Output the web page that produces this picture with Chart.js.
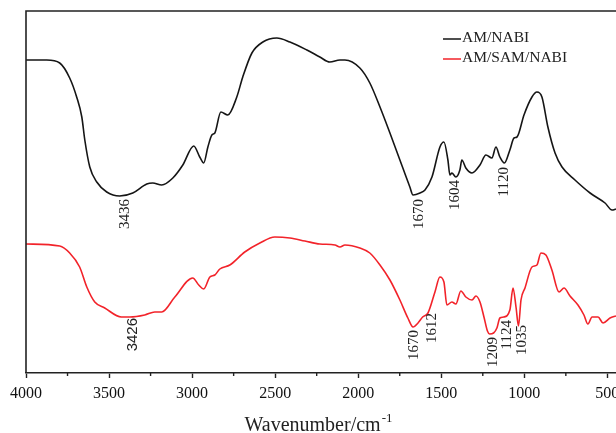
<!DOCTYPE html>
<html lang="en">
<head>
    <meta charset="UTF-8">
    <title>FTIR Spectra</title>
    <script src="https://cdn.jsdelivr.net/npm/chart.js"></script>
    <style>
        body {
            margin: 0;
            padding: 0;
            background-color: #fff;
        }
        .chart-box {
            width: 616px;
            height: 433px;
        }
    </style>
</head>
<body>
    <div class="chart-box">
        <canvas id="irChart"></canvas>
    </div>

    <script>
        // AM/NABI spectrum (wavenumber, transmittance a.u.)
        const amNabiWavenumbers = [4000, 3875, 3797, 3737, 3695, 3664, 3646, 3616, 3574, 3514, 3436, 3357, 3273, 3237, 3183, 3116, 3056, 2990, 2954, 2930, 2905, 2881, 2863, 2827, 2785, 2731, 2695, 2640, 2574, 2490, 2411, 2309, 2231, 2171, 2110, 2080, 1990, 1930, 1869, 1809, 1749, 1689, 1670, 1628, 1598, 1556, 1508, 1484, 1460, 1448, 1436, 1412, 1388, 1376, 1352, 1315, 1267, 1231, 1195, 1171, 1147, 1120, 1087, 1062, 1044, 1002, 954, 924, 894, 858, 815, 773, 695, 604, 514, 472, 448];
        const amNabiValues = [313, 313, 310, 295, 276, 256, 233, 206, 191, 181, 177, 180, 189, 190, 188, 195, 208, 227, 216, 210, 226, 238, 240, 261, 258, 276, 296, 320, 331, 335, 331, 323, 316, 311, 313, 313, 305, 290, 266, 240, 213, 186, 178, 180, 183, 196, 226, 231, 213, 198, 200, 196, 203, 213, 205, 200, 208, 218, 215, 226, 216, 210, 223, 235, 236, 258, 276, 281, 276, 246, 220, 206, 193, 180, 170, 163, 164];

        // AM/SAM/NABI spectrum
        const amSamNabiWavenumbers = [4000, 3797, 3737, 3677, 3634, 3586, 3526, 3426, 3375, 3285, 3225, 3183, 3104, 2996, 2960, 2930, 2893, 2863, 2833, 2773, 2683, 2592, 2502, 2411, 2321, 2231, 2140, 2110, 2080, 1990, 1930, 1869, 1809, 1749, 1701, 1670, 1640, 1612, 1580, 1538, 1508, 1484, 1466, 1436, 1412, 1382, 1352, 1315, 1291, 1267, 1243, 1222, 1209, 1185, 1165, 1147, 1124, 1087, 1068, 1050, 1035, 1020, 996, 954, 924, 900, 870, 834, 791, 761, 725, 677, 641, 617, 592, 556, 526, 484, 448];
        const amSamNabiValues = [129, 127, 120, 106, 86, 71, 65, 56, 56, 58, 61, 61, 76, 95, 88, 84, 96, 98, 104, 108, 121, 130, 136, 135, 132, 129, 128, 126, 128, 125, 120, 108, 93, 73, 55, 46, 50, 56, 60, 81, 96, 91, 68, 71, 69, 82, 76, 73, 77, 71, 56, 42, 39, 40, 45, 55, 56, 63, 85, 66, 47, 73, 85, 106, 108, 120, 118, 103, 81, 85, 77, 68, 58, 49, 56, 56, 50, 55, 57];

        const seriesNames = ['AM/NABI', 'AM/SAM/NABI'];
        const seriesColors = ['#151515', '#f2232a'];

        const majorTicks = [4000, 3500, 3000, 2500, 2000, 1500, 1000, 500];
        const minorTicks = [3750, 3250, 2750, 2250, 1750, 1250, 750];

        // peak labels: text, wavenumber where the label sits, level of its upper end
        const amNabiPeakLabels = ['3436', '1670', '1604', '1120'];
        const amNabiPeakAt = [3405, 1634, 1418, 1122];
        const amNabiPeakTop = [174, 174, 193, 206];

        const amSamNabiPeakLabels = ['3426', '1670', '1612', '1209', '1124', '1035'];
        const amSamNabiPeakAt = [3357, 1664, 1556, 1189, 1103, 1014];
        const amSamNabiPeakTop = [55, 43, 60, 36, 53, 48];

        function toPoints(xs, ys) {
            return xs.map((x, i) => ({ x: x, y: ys[i] }));
        }

        const serif = '"Liberation Serif", "Times New Roman", serif';

        // frame, minor ticks, peak labels, legend and axis title
        const extrasPlugin = {
            id: 'extras',
            afterDraw(chart) {
                const ctx = chart.ctx;
                const area = chart.chartArea;
                const xs = chart.scales.x;
                const ys = chart.scales.y;

                ctx.save();
                ctx.strokeStyle = '#222';
                ctx.lineWidth = 1.6;
                ctx.beginPath();
                ctx.moveTo(area.left, area.bottom);
                ctx.lineTo(area.left, area.top);
                ctx.lineTo(area.right, area.top);
                ctx.stroke();

                ctx.lineWidth = 1.4;
                minorTicks.forEach(v => {
                    const px = xs.getPixelForValue(v);
                    ctx.beginPath();
                    ctx.moveTo(px, area.bottom);
                    ctx.lineTo(px, area.bottom + 3);
                    ctx.stroke();
                });

                function drawPeaks(labels, at, tops, font) {
                    labels.forEach((txt, i) => {
                        const px = xs.getPixelForValue(at[i]);
                        const py = ys.getPixelForValue(tops[i]);
                        ctx.save();
                        ctx.translate(px, py);
                        ctx.rotate(-Math.PI / 2);
                        ctx.font = font;
                        ctx.fillStyle = '#222';
                        ctx.textAlign = 'right';
                        ctx.textBaseline = 'middle';
                        ctx.fillText(txt, 0, 0);
                        ctx.restore();
                    });
                }
                drawPeaks(amNabiPeakLabels, amNabiPeakAt, amNabiPeakTop, '15px ' + serif);
                drawPeaks(amSamNabiPeakLabels.slice(0, 1), amSamNabiPeakAt.slice(0, 1), amSamNabiPeakTop.slice(0, 1), '15px "Liberation Sans", Arial, sans-serif');
                drawPeaks(amSamNabiPeakLabels.slice(1), amSamNabiPeakAt.slice(1), amSamNabiPeakTop.slice(1), '15px ' + serif);

                // legend
                ctx.font = '15.5px ' + serif;
                ctx.textAlign = 'left';
                ctx.textBaseline = 'middle';
                seriesNames.forEach((name, i) => {
                    const ly = 38 + i * 20;
                    ctx.strokeStyle = seriesColors[i];
                    ctx.lineWidth = 1.5;
                    ctx.beginPath();
                    ctx.moveTo(443, ly + 1);
                    ctx.lineTo(461, ly + 1);
                    ctx.stroke();
                    ctx.fillStyle = '#222';
                    ctx.fillText(name, 462, ly);
                });

                // axis title with superscript
                const main = 'Wavenumber/cm';
                const sup = '-1';
                ctx.font = '20px ' + serif;
                const mainW = ctx.measureText(main).width;
                ctx.font = '13px ' + serif;
                const supW = ctx.measureText(sup).width;
                const startX = 318 - (mainW + supW) / 2;
                ctx.textBaseline = 'alphabetic';
                ctx.font = '20px ' + serif;
                ctx.fillText(main, startX, 431);
                ctx.font = '13px ' + serif;
                ctx.fillText(sup, startX + mainW + 1, 422);
                ctx.restore();
            }
        };

        const ctx = document.getElementById('irChart').getContext('2d');
        const irChart = new Chart(ctx, {
            type: 'line',
            data: {
                datasets: [{
                    label: seriesNames[0],
                    data: toPoints(amNabiWavenumbers, amNabiValues),
                    borderColor: seriesColors[0],
                    borderWidth: 1.6
                }, {
                    label: seriesNames[1],
                    data: toPoints(amSamNabiWavenumbers, amSamNabiValues),
                    borderColor: seriesColors[1],
                    borderWidth: 1.6
                }]
            },
            options: {
                responsive: true,
                maintainAspectRatio: false,
                animation: false,
                layout: {
                    padding: { left: 26, right: 0, top: 11, bottom: 0 }
                },
                elements: {
                    point: { radius: 0 },
                    line: { tension: 0.35, cubicInterpolationMode: 'monotone' }
                },
                plugins: {
                    legend: { display: false },
                    tooltip: { enabled: false }
                },
                scales: {
                    x: {
                        type: 'linear',
                        reverse: true,
                        min: 448,
                        max: 4000,
                        afterBuildTicks: scale => {
                            scale.ticks = majorTicks.map(v => ({ value: v }));
                        },
                        afterFit: scale => {
                            scale.height = 60;
                            scale.paddingLeft = 0;
                            scale.paddingRight = 0;
                        },
                        border: { color: '#222', width: 1.6 },
                        grid: {
                            drawOnChartArea: false,
                            tickLength: 5,
                            tickColor: '#222',
                            tickWidth: 1.4
                        },
                        ticks: {
                            maxRotation: 0,
                            autoSkip: false,
                            padding: 6,
                            color: '#111',
                            font: { family: serif, size: 16 },
                            callback: value => String(value)
                        }
                    },
                    y: {
                        display: false,
                        min: 0,
                        max: 362
                    }
                }
            },
            plugins: [extrasPlugin]
        });
    </script>
</body>
</html>
